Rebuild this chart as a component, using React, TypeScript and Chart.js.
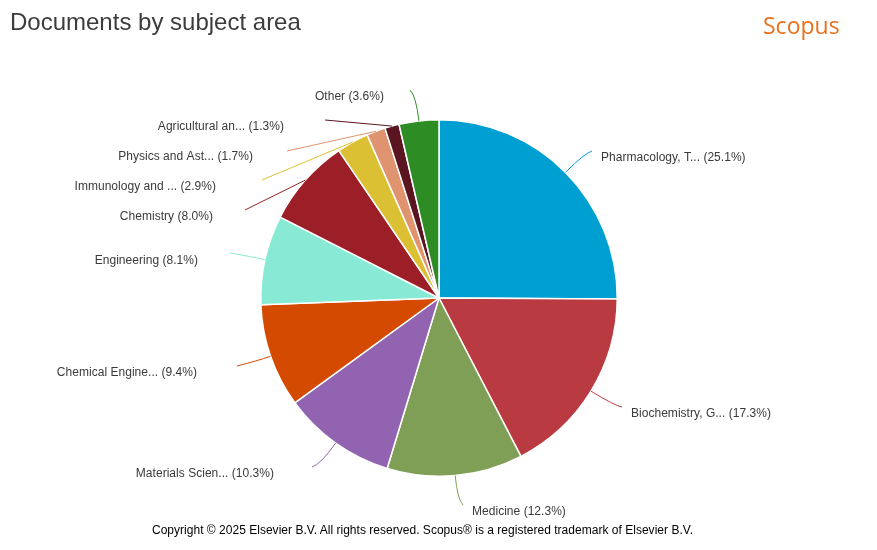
import React, { useEffect, useRef } from "react";
import { Chart, ChartConfiguration, Plugin, registerables } from "chart.js";

const categories = [
	"Pharmacology, T...",
	"Biochemistry, G...",
	"Medicine",
	"Materials Scien...",
	"Chemical Engine...",
	"Engineering",
	"Chemistry",
	"Immunology and ...",
	"Physics and Ast...",
	"Agricultural an...",
	"Other",
];
const shares = [25.1, 17.3, 12.3, 10.3, 9.4, 8.1, 8.0, 2.9, 1.7, 1.3, 3.6];
const colors = [
	"#009fd1",
	"#b93a40",
	"#7f9f56",
	"#9263b0",
	"#d44a00",
	"#88ead4",
	"#9c1f27",
	"#dcc033",
	"#e0936f",
	"#5a1520",
	"#2d8c24",
];

// where each connector ends, how much it bends, and where its text sits
const lineEnds = [
	[592, 151],
	[622, 407],
	[463, 505],
	[312, 467],
	[237, 366],
	[230, 253],
	[245, 210],
	[262, 180],
	[287, 151],
	[325, 120],
	[410, 90],
];
const lineBends = [0.8, 0.8, 0.8, 0.8, 0.4, 0.4, 0, 0, 0, 0, 0.8];
const textAnchors = [
	[601, 157],
	[631, 413],
	[472, 511],
	[274, 473],
	[197, 372],
	[198, 260],
	[213, 216],
	[216, 186],
	[253, 156],
	[284, 126],
	[384, 96],
];

const sliceLabels: Plugin<"pie"> = {
	id: "sliceLabels",
	afterDraw(chart) {
		const ctx = chart.ctx;
		ctx.save();
		chart.getDatasetMeta(0).data.forEach((arc, i) => {
			const { x, y, startAngle, endAngle, outerRadius } = arc.getProps(
				["x", "y", "startAngle", "endAngle", "outerRadius"],
				true
			) as any;
			const mid = (startAngle + endAngle) / 2;
			const dirX = Math.cos(mid);
			const dirY = Math.sin(mid);
			const fromX = x + dirX * outerRadius;
			const fromY = y + dirY * outerRadius;
			const [toX, toY] = lineEnds[i];
			const reach = Math.max(0, (toX - fromX) * dirX + (toY - fromY) * dirY) * lineBends[i];

			ctx.beginPath();
			ctx.moveTo(fromX, fromY);
			if (lineBends[i] > 0) {
				ctx.quadraticCurveTo(fromX + dirX * reach, fromY + dirY * reach, toX, toY);
			} else {
				ctx.lineTo(toX, toY);
			}
			ctx.strokeStyle = colors[i];
			ctx.lineWidth = 1;
			ctx.stroke();

			const [textX, textY] = textAnchors[i];
			ctx.font = '12px "Liberation Sans", Arial, sans-serif';
			(ctx as any).letterSpacing = "0.03px";
			ctx.fillStyle = "#3a3a3a";
			ctx.textBaseline = "alphabetic";
			ctx.textAlign = textX > x ? "left" : "right";
			ctx.fillText(`${categories[i]} (${shares[i].toFixed(1)}%)`, textX, textY + 4);
		});
		ctx.restore();
	},
};

const App: React.FC = () => {
	const chartRef = useRef<HTMLCanvasElement | null>(null);

	useEffect(() => {
		if (!chartRef.current) return;
		Chart.register(...registerables);
		const config: ChartConfiguration<"pie"> = {
			type: "pie",
			data: {
				labels: categories,
				datasets: [
					{
						data: shares,
						backgroundColor: colors,
						borderColor: "#ffffff",
						borderWidth: 1.5,
					},
				],
			},
			options: {
				responsive: false,
				animation: false,
				layout: { padding: { left: 260, right: 259, top: 119, bottom: 73 } },
				plugins: {
					legend: { display: false },
					tooltip: { enabled: false },
				},
			},
			plugins: [sliceLabels],
		};
		const chart = new Chart(chartRef.current, config);
		return () => chart.destroy();
	}, []);

	return (
		<div
			style={{
				position: "fixed",
				left: 0,
				top: 0,
				width: 877,
				height: 550,
				background: "#ffffff",
				overflow: "hidden",
				fontFamily: '"Liberation Sans", Arial, sans-serif',
			}}
		>
			<canvas
				ref={chartRef}
				width={877}
				height={550}
				style={{ position: "absolute", left: 0, top: 0 }}
			/>
			<div style={{ position: "absolute", left: 10, top: 8, fontSize: 24, color: "#3c3c3c", lineHeight: "28px" }}>
				Documents by subject area
			</div>
			<div
				style={{
					position: "absolute",
					left: 763,
					top: 9,
					fontSize: 23,
					lineHeight: "32px",
					color: "#e9711c",
					fontFamily: '"Open Sans", sans-serif',
				}}
			>
				Scopus
			</div>
			<div
				style={{
					position: "absolute",
					left: 0,
					width: 845,
					top: 522,
					textAlign: "center",
					fontSize: 12,
					letterSpacing: "0.02px",
					lineHeight: "16px",
					color: "#000000",
				}}
			>
				Copyright © 2025 Elsevier B.V. All rights reserved. Scopus® is a registered trademark of Elsevier B.V.
			</div>
		</div>
	);
};

export default App;
